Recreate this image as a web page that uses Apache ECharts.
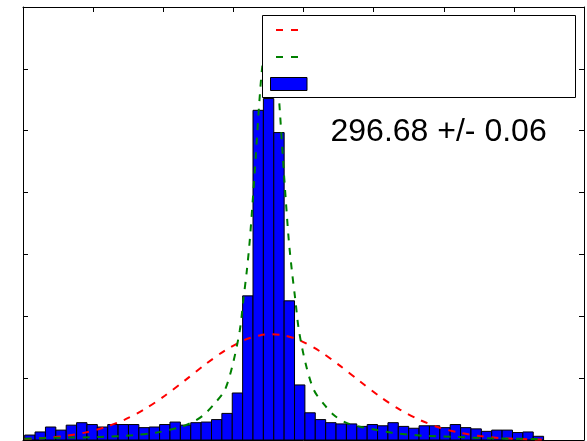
<!DOCTYPE html>
<html>
<head>
<meta charset="utf-8">
<script src="https://cdn.jsdelivr.net/npm/echarts@6/dist/echarts.min.js"></script>
<style>
  html, body { margin: 0; padding: 0; background: #ffffff; }
  #chart { width: 587px; height: 441px; }
</style>
</head>
<body>
<div id="chart"></div>
<script>
// ---- data ----
const xTickRange = [295, 299];       // x axis range (ticks every 0.5)
const xTickStep = 0.5;
const yTickRange = [0, 700];         // y axis range (ticks every 100)
const yTickStep = 100;

// histogram bins
const binStart = 295.012;
const binWidth = 0.074;
const binCounts = [
  8, 13, 21, 16, 24, 28, 25, 21, 25, 25,
  25, 20, 21, 25, 29, 24, 28, 29, 33, 43,
  76, 233, 533, 552, 497, 225, 89, 44, 33, 28,
  26, 26, 22, 25, 23, 28, 22, 19, 23, 23,
  20, 25, 20, 18, 14, 16, 16, 12, 13, 6
];

// wide fit (red dashed) : [x, y]
const redFitX = [295.012, 295.155, 295.297, 295.440, 295.583, 295.725, 295.868, 296.011, 296.153, 296.296,
                 296.439, 296.581, 296.688, 296.774, 296.867, 296.974, 297.116, 297.259, 297.402, 297.544,
                 297.687, 297.830, 297.972, 298.115, 298.258, 298.400, 298.543, 298.707];
const redFitY = [1.6, 3.4, 6.5, 11.9, 20.5, 32.9, 50.0, 71.5, 96.0, 121.5,
                 144.6, 161.9, 169.1, 171.1, 168.8, 161.1, 143.5, 120.2, 94.9, 70.4,
                 49.1, 32.3, 19.9, 11.6, 6.3, 3.2, 1.6, 0.6];

// narrow fit (green dashed) : [x, y]
const greenFitX = [295.012, 295.240, 295.547, 295.782, 295.954, 296.125, 296.225, 296.296, 296.367, 296.439,
                   296.496, 296.546, 296.571, 296.596, 296.617, 296.638, 296.660, 296.681, 296.703, 296.728,
                   296.756, 296.785, 296.810, 296.831, 296.852, 296.874, 296.895, 296.917, 296.942, 296.967,
                   297.016, 297.074, 297.145, 297.216, 297.302, 297.402, 297.523, 297.630, 297.851, 298.093,
                   298.329, 298.685];
const greenFitY = [1.9, 3.6, 4.8, 7.7, 12.1, 21.0, 30.7, 42.0, 59.2, 80.7,
                   122.7, 177.5, 226, 274, 323, 387, 460, 533, 597, 638,
                   649, 638, 597, 533, 460, 387, 323, 274, 226, 177.5,
                   122.7, 80.7, 58.1, 40.4, 28.2, 21.5, 16.1, 11.8, 6.9, 4.8,
                   2.7, 1.6];

const annotation = '296.68 +/- 0.06';

// ---- build chart ----
const histData = binCounts.map((c, i) => [binStart + i * binWidth, binStart + (i + 1) * binWidth, c]);
const redData = redFitX.map((x, i) => [x, redFitY[i]]);
const greenData = greenFitX.map((x, i) => [x, greenFitY[i]]);

const axisCommon = {
  type: 'value',
  axisLine: { show: true, onZero: false, lineStyle: { color: '#000', width: 1 } },
  axisTick: { show: true, inside: true, length: 5, lineStyle: { color: '#000', width: 1 } },
  axisLabel: { show: false },
  splitLine: { show: false }
};

const chart = echarts.init(document.getElementById('chart'), null, { renderer: 'canvas' });
chart.setOption({
  animation: false,
  backgroundColor: '#ffffff',
  grid: { left: 23, width: 561, top: 7, bottom: 1, containLabel: false },
  xAxis: [
    Object.assign({}, axisCommon, { position: 'bottom', min: xTickRange[0], max: xTickRange[1], interval: xTickStep }),
    Object.assign({}, axisCommon, { position: 'top', min: xTickRange[0], max: xTickRange[1], interval: xTickStep })
  ],
  yAxis: [
    Object.assign({}, axisCommon, { position: 'left', min: yTickRange[0], max: yTickRange[1], interval: yTickStep }),
    Object.assign({}, axisCommon, { position: 'right', min: yTickRange[0], max: yTickRange[1], interval: yTickStep })
  ],
  series: [
    {
      type: 'custom',
      xAxisIndex: 0, yAxisIndex: 0,
      data: histData,
      encode: { x: [0, 1], y: 2 },
      z: 2,
      renderItem: function (params, api) {
        const p0 = api.coord([api.value(0), api.value(2)]);
        const p1 = api.coord([api.value(1), 0]);
        return {
          type: 'rect',
          shape: { x: p0[0], y: p0[1], width: p1[0] - p0[0], height: p1[1] - p0[1] },
          style: { fill: '#0000ff', stroke: '#000000', lineWidth: 1 }
        };
      }
    },
    {
      type: 'line',
      data: redData,
      showSymbol: false,
      smooth: 0.3,
      z: 3,
      lineStyle: { color: '#ff0000', width: 2, type: [7, 7.5] }
    },
    {
      type: 'line',
      data: greenData,
      showSymbol: false,
      smooth: 0.3,
      z: 4,
      lineStyle: { color: '#008000', width: 2, type: [7, 7.5] }
    }
  ],
  graphic: [
    {
      type: 'rect', z: 100,
      shape: { x: 262.5, y: 15.5, width: 313, height: 82 },
      style: { fill: '#ffffff', stroke: '#000000', lineWidth: 1 }
    },
    {
      type: 'line', z: 101,
      shape: { x1: 276, y1: 30, x2: 299, y2: 30 },
      style: { stroke: '#ff0000', lineWidth: 2, lineDash: [7, 8] }
    },
    {
      type: 'line', z: 101,
      shape: { x1: 276, y1: 57, x2: 299, y2: 57 },
      style: { stroke: '#008000', lineWidth: 2, lineDash: [7, 8] }
    },
    {
      type: 'rect', z: 101,
      shape: { x: 270.5, y: 77.5, width: 36.5, height: 13 },
      style: { fill: '#0000ff', stroke: '#000000', lineWidth: 1 }
    },
    {
      type: 'text', z: 101,
      x: 330.5, y: 132,
      style: {
        text: annotation,
        fill: '#000000',
        font: '32px "Liberation Sans", Arial, sans-serif',
        textAlign: 'left',
        textVerticalAlign: 'middle'
      }
    }
  ]
});
</script>
</body>
</html>
